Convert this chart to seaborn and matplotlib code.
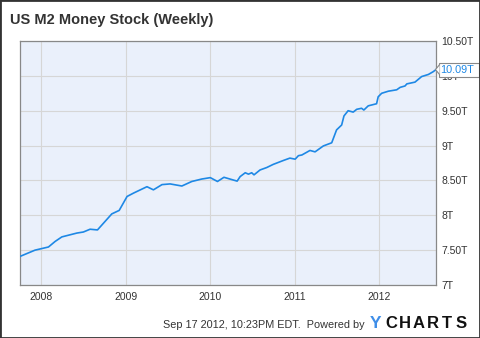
import matplotlib
matplotlib.use("Agg")
import matplotlib.pyplot as plt
from matplotlib.patches import Rectangle, Polygon
import pandas as pd
import seaborn as sns

# Weekly M2 money stock, trillions of USD
dates = [
    "2007-10-01", "2007-12-05", "2008-02-01", "2008-03-01", "2008-03-30",
    "2008-06-03", "2008-07-01", "2008-07-30", "2008-08-31", "2008-11-01",
    "2008-12-03", "2009-01-06", "2009-02-04", "2009-04-02", "2009-04-30",
    "2009-06-06", "2009-07-11", "2009-08-31", "2009-10-13", "2009-11-25",
    "2010-01-01", "2010-02-01", "2010-03-01", "2010-04-27", "2010-05-10",
    "2010-06-01", "2010-06-15", "2010-06-29", "2010-07-09", "2010-08-04",
    "2010-09-02", "2010-09-30", "2010-11-12", "2010-12-11", "2011-01-03",
    "2011-01-17", "2011-02-01", "2011-03-08", "2011-03-30", "2011-05-05",
    "2011-06-10", "2011-07-01", "2011-07-23", "2011-08-02", "2011-08-20",
    "2011-09-11", "2011-09-26", "2011-10-17", "2011-10-27", "2011-11-15",
    "2011-12-21", "2011-12-28", "2012-01-12", "2012-02-10", "2012-03-17",
    "2012-04-01", "2012-04-22", "2012-04-30", "2012-06-04", "2012-07-03",
    "2012-08-01", "2012-08-22", "2012-09-03",
]
m2 = [
    7.41, 7.50, 7.545, 7.625, 7.69,
    7.745, 7.76, 7.80, 7.79, 8.02,
    8.07, 8.27, 8.32, 8.41, 8.365,
    8.44, 8.45, 8.42, 8.485, 8.52,
    8.54, 8.485, 8.545, 8.49, 8.555,
    8.61, 8.59, 8.61, 8.58, 8.65,
    8.685, 8.73, 8.785, 8.82, 8.805,
    8.855, 8.865, 8.93, 8.91, 8.995,
    9.04, 9.225, 9.295, 9.425, 9.50,
    9.48, 9.52, 9.535, 9.51, 9.57,
    9.60, 9.70, 9.75, 9.78, 9.80,
    9.835, 9.855, 9.885, 9.91, 9.99,
    10.02, 10.06, 10.09,
]
y_ticks = [7.0, 7.5, 8.0, 8.5, 9.0, 9.5, 10.0, 10.5]
y_tick_labels = ["7T", "7.50T", "8T", "8.50T", "9T", "9.50T", "10T", "10.50T"]
x_tick_years = [2008, 2009, 2010, 2011, 2012]
last_label = "10.09T"

df = pd.DataFrame({"date": pd.to_datetime(dates), "value": m2})

text_color = "#333333"
line_color = "#1e88e5"
font = "Liberation Sans"
W, H = 480, 338

fig = plt.figure(figsize=(W / 100, H / 100), dpi=100)
fig.patch.set_facecolor("white")
ax = fig.add_axes([20 / W, 1 - 285 / H, 416 / W, 244 / H])
ax.set_facecolor("#eaf0fb")

sns.lineplot(data=df, x="date", y="value", ax=ax, color=line_color,
             linewidth=1.2, zorder=3)

ax.set_xlim(pd.Timestamp("2007-10-01"), pd.Timestamp("2012-09-03"))
ax.set_ylim(7.0, 10.5)
ax.set_xlabel("")
ax.set_ylabel("")

ax.set_yticks(y_ticks)
ax.set_yticklabels(y_tick_labels)
ax.yaxis.tick_right()
ax.set_xticks([pd.Timestamp(f"{y}-01-01") for y in x_tick_years])
ax.set_xticklabels([str(y) for y in x_tick_years])
ax.tick_params(axis="both", length=0, labelsize=7.5, labelcolor=text_color)
ax.tick_params(axis="y", pad=4)
ax.tick_params(axis="x", pad=5)
for lbl in ax.get_xticklabels() + ax.get_yticklabels():
    lbl.set_fontfamily(font)

ax.grid(True, color="#d6d6d6", linewidth=0.8)
ax.set_axisbelow(True)
for side in ["left", "right", "top", "bottom"]:
    ax.spines[side].set_color("#888888")
    ax.spines[side].set_linewidth(0.9)

# Title
fig.text(10 / W, 1 - 20 / H, "US M2 Money Stock (Weekly)", fontsize=10.5,
         fontweight="bold", color=text_color, family=font, va="center", ha="left")

# Last value callout on the right axis
last_y = ax.transData.transform((0, m2[-1]))[1] / fig.dpi / (H / 100)
box_left = 439 / W
box_h = 14 / H
fig.patches.append(Rectangle((box_left, last_y - box_h / 2), 40 / W, box_h,
                             transform=fig.transFigure, facecolor="white",
                             edgecolor="#888888", linewidth=0.8, zorder=5))
fig.patches.append(Polygon([[box_left + 0.6 / W, last_y + 5 / H],
                            [435.5 / W, last_y],
                            [box_left + 0.6 / W, last_y - 5 / H]],
                           closed=False, transform=fig.transFigure,
                           facecolor="white", edgecolor="#888888",
                           linewidth=0.8, zorder=6))
fig.text(440.5 / W, last_y, last_label, fontsize=7.8, color=line_color,
         family=font, va="center", ha="left", zorder=7)

# Footer
fig.text(365 / W, 1 - 325 / H, "Sep 17 2012, 10:23PM EDT.  Powered by",
         fontsize=7.8, color=text_color, family=font, va="center", ha="right")
fig.text(370 / W, 1 - 323 / H, "Y", fontsize=12.5, fontweight="bold",
         color="#3f8ee8", family=font, va="center", ha="left")
for i, ch in enumerate("CHARTS"):
    fig.text((391 + i * 14.0) / W, 1 - 323 / H, ch, fontsize=12,
             fontweight="bold", color="#111111", family=font,
             va="center", ha="center")

# Outer frame
fig.patches.append(Rectangle((0, 0), 1, 1, transform=fig.transFigure,
                             fill=False, edgecolor="#333333", linewidth=2,
                             zorder=10))

fig.savefig("out.png", dpi=100)
